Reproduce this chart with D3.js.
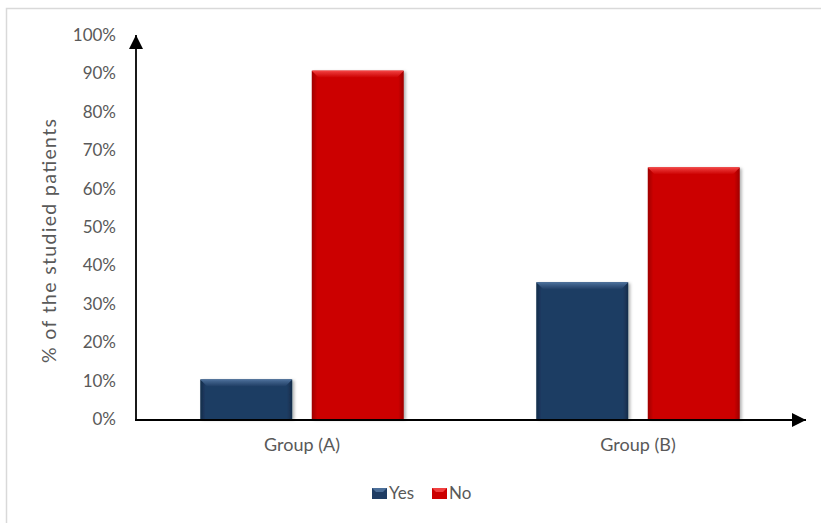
<!DOCTYPE html>
<html><head><meta charset="utf-8">
<script src="https://cdn.jsdelivr.net/npm/d3@7"></script>
<style>
html,body{margin:0;padding:0;background:#fff;}
svg{display:block;}
text{font-family:Lato,"Open Sans",sans-serif;fill:#595959;}
</style></head>
<body>
<div id="chart"></div>
<script>
const groups = ["Group (A)", "Group (B)"];
const seriesNames = ["Yes", "No"];
const yesValues = [10.3, 35.6];
const noValues = [90.7, 65.5];
const yTicks = [0,10,20,30,40,50,60,70,80,90,100];
const yTitle = "% of the studied patients";
const colors = {Yes: "#1F3D64", No: "#CC0000"};
const lightColors = {Yes: "#4C6F99", No: "#F04040"};
const darkColors = {Yes: "#152C4A", No: "#9E0000"};

const W = 821, H = 523;
const svg = d3.select("#chart").append("svg").attr("width", W).attr("height", H);
const defs = svg.append("defs");

// chart border
svg.append("rect").attr("x", 6.5).attr("y", 8.5).attr("width", 840).attr("height", 540)
  .attr("fill", "#fff").attr("stroke", "#d9d9d9").attr("stroke-width", 1.5);

const x0 = d3.scaleBand().domain(groups).range([134, 806]).padding(0);
const x1 = d3.scaleBand().domain(seriesNames).range([0, x0.bandwidth()]).paddingInner(0.175).paddingOuter(0.594);
const y = d3.scaleLinear().domain([0, 100]).range([419, 35]);

// gradients
seriesNames.forEach(s => {
  const g = defs.append("linearGradient").attr("id", "g" + s).attr("x1", 0).attr("x2", 1).attr("y1", 0).attr("y2", 0);
  g.append("stop").attr("offset", "0%").attr("stop-color", darkColors[s]);
  g.append("stop").attr("offset", "6%").attr("stop-color", colors[s]);
  g.append("stop").attr("offset", "94%").attr("stop-color", colors[s]);
  g.append("stop").attr("offset", "100%").attr("stop-color", darkColors[s]);
  const t = defs.append("linearGradient").attr("id", "t" + s).attr("x1", 0).attr("x2", 0).attr("y1", 0).attr("y2", 1);
  t.append("stop").attr("offset", "0%").attr("stop-color", lightColors[s]);
  t.append("stop").attr("offset", "100%").attr("stop-color", colors[s]);
});
const f = defs.append("filter").attr("id", "sh").attr("x", "-10%").attr("y", "-10%").attr("width", "130%").attr("height", "130%");
f.append("feDropShadow").attr("dx", 2).attr("dy", 1).attr("stdDeviation", 1.5).attr("flood-color", "#000").attr("flood-opacity", 0.3);

const data = groups.map((g, i) => ({group: g, vals: [{key: "Yes", v: yesValues[i]}, {key: "No", v: noValues[i]}]}));

const gg = svg.selectAll("g.grp").data(data).enter().append("g")
  .attr("transform", d => `translate(${x0(d.group)},0)`);
const bars = gg.selectAll("g.bar").data(d => d.vals).enter().append("g");
bars.append("rect")
  .attr("x", d => x1(d.key)).attr("y", d => y(d.v))
  .attr("width", x1.bandwidth()).attr("height", d => y(0) - y(d.v))
  .attr("fill", d => `url(#g${d.key})`).attr("filter", "url(#sh)");
// top bevel
bars.append("path")
  .attr("d", d => {
    const xl = x1(d.key), xr = xl + x1.bandwidth(), yt = y(d.v), b = 7;
    return `M${xl},${yt}L${xr},${yt}L${xr - b},${yt + b}L${xl + b},${yt + b}Z`;
  })
  .attr("fill", d => `url(#t${d.key})`);
bars.append("line")
  .attr("x1", d => x1(d.key) + 1).attr("x2", d => x1(d.key) + x1.bandwidth() - 1)
  .attr("y1", d => y(d.v) + 0.5).attr("y2", d => y(d.v) + 0.5)
  .attr("stroke", d => lightColors[d.key]).attr("stroke-width", 1);

// axes with arrows
defs.append("marker").attr("id", "arr").attr("viewBox", "0 0 10 10").attr("refX", 10).attr("refY", 5)
  .attr("markerWidth", 14).attr("markerHeight", 14).attr("markerUnits", "userSpaceOnUse").attr("orient", "auto")
  .append("path").attr("d", "M0,0L10,5L0,10Z").attr("fill", "#000");
svg.append("line").attr("x1", 136).attr("x2", 136).attr("y1", y(0) + 1).attr("y2", 35)
  .attr("stroke", "#000").attr("stroke-width", 1.8).attr("marker-end", "url(#arr)");
svg.append("line").attr("x1", 135).attr("x2", 806).attr("y1", 420).attr("y2", 420)
  .attr("stroke", "#000").attr("stroke-width", 1.8).attr("marker-end", "url(#arr)");

// y tick labels via axis
const yAxis = d3.axisLeft(y).tickValues(yTicks).tickFormat(d => d + "%").tickSize(0).tickPadding(0);
const ya = svg.append("g").attr("transform", "translate(116,0)").call(yAxis);
ya.select(".domain").remove();
ya.selectAll("text").style("font-size", "17px").style("fill", "#595959").style("font-family", "Lato, sans-serif");

// x labels via axis
const xAxis = d3.axisBottom(x0).tickSize(0).tickPadding(0);
const xa = svg.append("g").attr("transform", "translate(0,438)").call(xAxis);
xa.select(".domain").remove();
xa.selectAll("text").style("font-size", "18px").style("fill", "#595959").style("font-family", "Lato, sans-serif");

// y title
svg.append("text").attr("transform", "translate(56,241) rotate(-90)").attr("text-anchor", "middle")
  .attr("textLength", 244).attr("lengthAdjust", "spacing")
  .style("font-size", "19.5px").text(yTitle);

// legend
const leg = svg.append("g");
const legItems = [{key: "Yes", x: 372}, {key: "No", x: 432}];
legItems.forEach(it => {
  leg.append("rect").attr("x", it.x).attr("y", 488).attr("width", 15).attr("height", 11)
    .attr("fill", colors[it.key]);
  leg.append("path").attr("d", `M${it.x},488L${it.x+15},488L${it.x+11},492L${it.x+4},492Z`).attr("fill", lightColors[it.key]);
  leg.append("text").attr("x", it.x + 17).attr("y", 499).style("font-size", "17px").text(it.key);
});
</script>
</body></html>
